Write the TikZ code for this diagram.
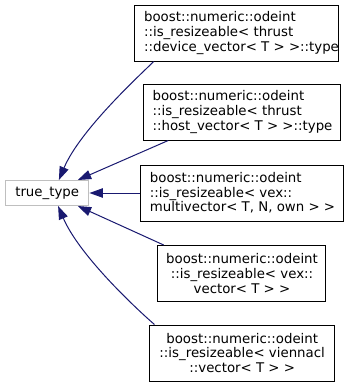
\documentclass[tikz,border=0pt]{standalone}
\usepackage{fontspec}
\setmainfont{DejaVu Sans}
\usetikzlibrary{arrows.meta}
\definecolor{edgeblue}{HTML}{191970}
\definecolor{basegray}{HTML}{BFBFBF}
\newcommand{\lpad}{\hspace*{7.5pt}}
\begin{document}
\begin{tikzpicture}[x=0.75pt,y=-0.75pt,
  font=\fontsize{10pt}{11pt}\selectfont,
  classbox/.style={draw=black,line width=0.75pt,fill=white,inner sep=0pt,
    minimum height=42pt},
  basebox/.style={draw=basegray,line width=0.75pt,fill=white,inner sep=0pt,
    minimum width=62.6pt,minimum height=18.75pt},
  inherit/.style={draw=edgeblue,line width=0.75pt,
    -{Triangle[length=10pt,width=7pt]},fill=none}]
\useasboundingbox (0,0) rectangle (353,387);

% base class
\node[basebox] (tt) at (47.2,193) {true\_type};

% derived classes
\node[classbox,minimum width=149.25pt,align=left] (b1) at (236.5,33)
  {\lpad boost::numeric::odeint\\\lpad ::is\_resizeable< thrust\\\lpad ::device\_vector< T > >::type};
\node[classbox,minimum width=147.75pt,align=left] (b2) at (242.5,112)
  {boost::numeric::odeint\\::is\_resizeable< thrust\\::host\_vector< T > >::type};
\node[classbox,minimum width=152.25pt,align=left] (b3) at (242.5,193)
  {boost::numeric::odeint\\::is\_resizeable< vex::\\multivector< T, N, own > >};
\node[classbox,minimum width=126pt,align=center] (b4) at (242,273.5)
  {boost::numeric::odeint\\::is\_resizeable< vex::\\vector< T > >};
\node[classbox,minimum width=139pt,align=center] (b5) at (242.2,353)
  {boost::numeric::odeint\\::is\_resizeable< viennacl\\::vector< T > >};

% inheritance edges
\draw[inherit] (b1.199) .. controls (140,75) and (80,130) .. (tt.48);
\draw[inherit] (b2.201) -- (tt.23);
\draw[inherit] (b3.west) -- (tt.east);
\draw[inherit] (b4.160) -- (tt.-23);
\draw[inherit] (b5.162) .. controls (140,312) and (80,257) .. (tt.-50);
\end{tikzpicture}
\end{document}
